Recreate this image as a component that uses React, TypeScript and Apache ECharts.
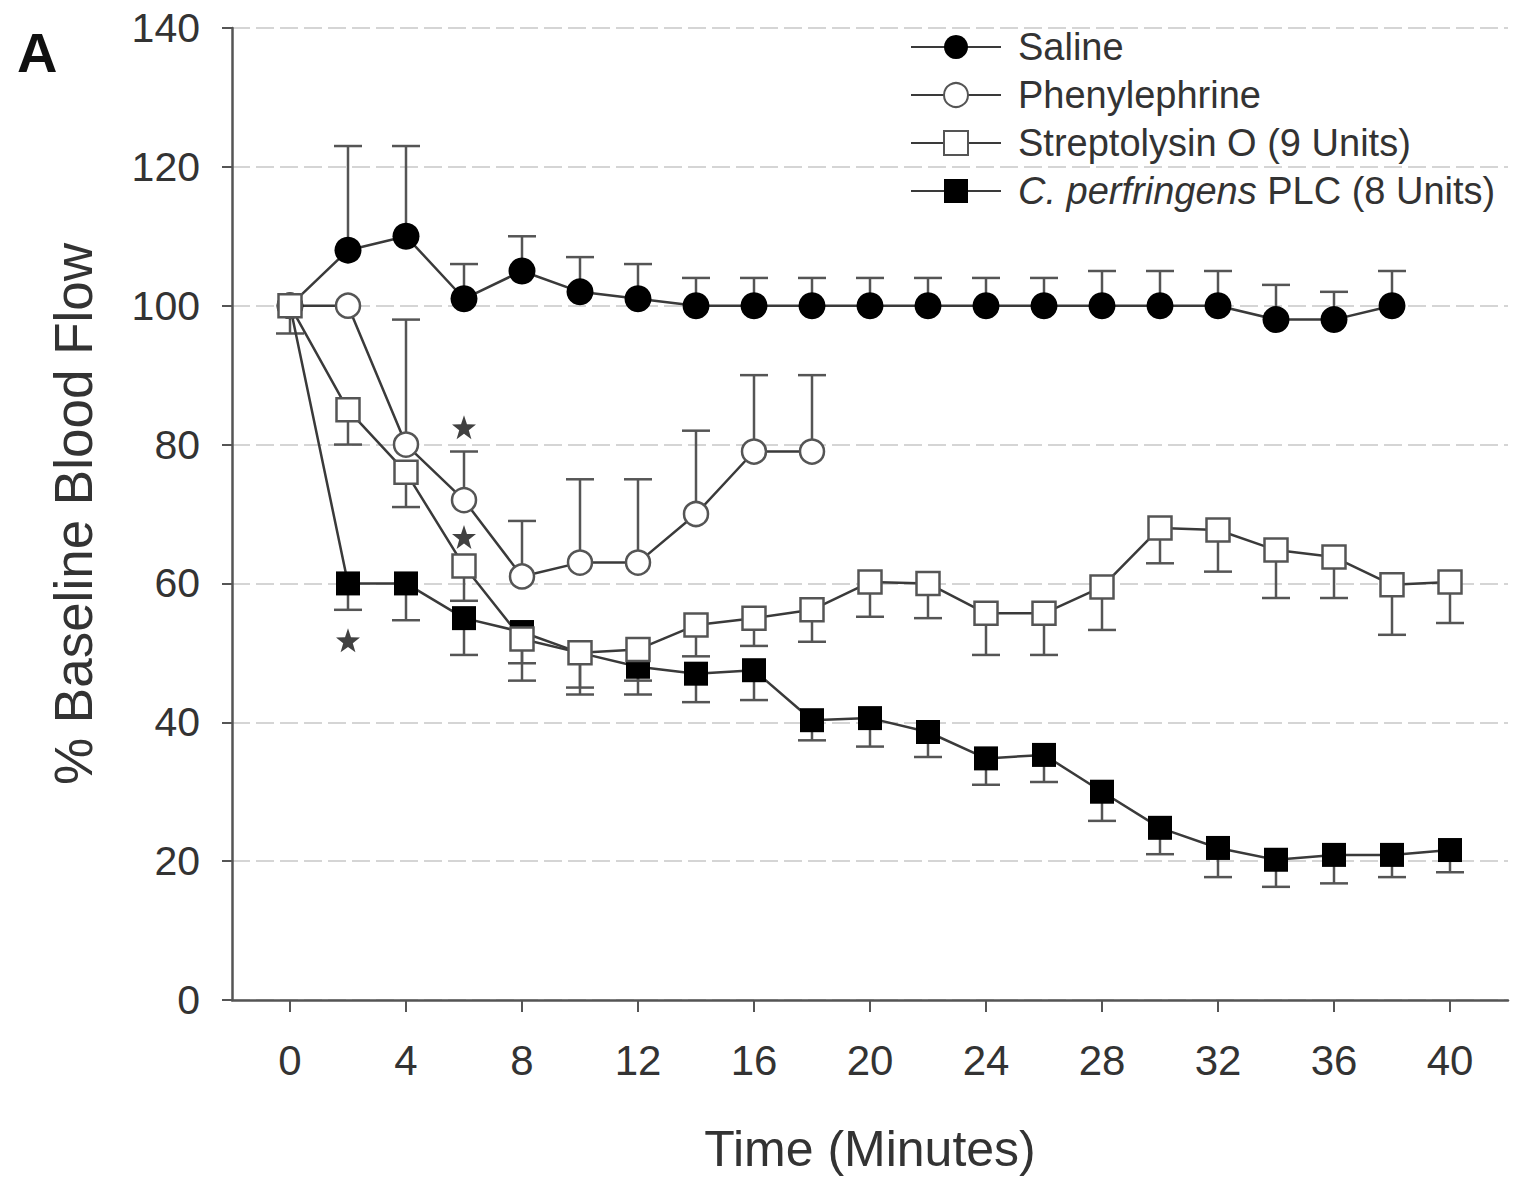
import React, { useEffect, useRef } from "react";
import * as echarts from "echarts";

// ---------- data ----------
const salineTime = [0, 2, 4, 6, 8, 10, 12, 14, 16, 18, 20, 22, 24, 26, 28, 30, 32, 34, 36, 38];
const salineValues = [100, 108, 110, 101, 105, 102, 101, 100, 100, 100, 100, 100, 100, 100, 100, 100, 100, 98, 98, 100];
const salineErrHigh = [null, 123, 123, 106, 110, 107, 106, 104, 104, 104, 104, 104, 104, 104, 105, 105, 105, 103, 102, 105];

const phenylTime = [0, 2, 4, 6, 8, 10, 12, 14, 16, 18];
const phenylValues = [100, 100, 80, 72, 61, 63, 63, 70, 79, 79];
const phenylErrHigh = [null, null, 98, 79, 69, 75, 75, 82, 90, 90];

const sloTime = [0, 2, 4, 6, 8, 10, 12, 14, 16, 18, 20, 22, 24, 26, 28, 30, 32, 34, 36, 38, 40];
const sloValues = [100, 85, 76, 62.5, 52, 50, 50.5, 54, 55, 56.2, 60.2, 60, 55.7, 55.7, 59.5, 68, 67.7, 64.8, 63.8, 59.8, 60.2];
const sloErrLow = [null, 80, 71, 57.5, 46, 44, 46, 49.5, 51, 51.6, 55.2, 55, 49.7, 49.7, 53.3, 62.9, 61.7, 57.9, 57.9, 52.6, 54.3];

const plcTime = [0, 2, 4, 6, 8, 10, 12, 14, 16, 18, 20, 22, 24, 26, 28, 30, 32, 34, 36, 38, 40];
const plcValues = [100, 60, 60, 55, 53, 50, 48, 47, 47.5, 40.3, 40.6, 38.6, 34.8, 35.3, 30, 24.8, 21.9, 20.2, 20.9, 20.9, 21.6];
const plcErrLow = [96, 56.2, 54.7, 49.7, 48.5, 45, 44, 42.9, 43.2, 37.4, 36.5, 35, 31, 31.4, 25.8, 21, 17.7, 16.3, 16.8, 17.7, 18.4];

const starTime = [2, 6, 6];
const starValues = [51.8, 82.5, 66.7];

const xTicks = [0, 4, 8, 12, 16, 20, 24, 28, 32, 36, 40];

const seriesNames = ["Saline", "Phenylephrine", "Streptolysin O (9 Units)", "C. perfringens PLC (8 Units)"];

// ---------- helpers ----------
const LINE = "#3a3a3a";
const EDGE = "#555";
const TEXT = "#333";
const FONT = "'Liberation Sans', Arial, sans-serif";

function pairs(xs: number[], ys: number[]) {
  return xs.map((x, i) => [x, ys[i]]);
}
function errPairs(xs: number[], ys: number[], es: (number | null)[]) {
  const out: number[][] = [];
  xs.forEach((x, i) => {
    const e = es[i];
    if (e !== null && e !== undefined) out.push([x, ys[i], e]);
  });
  return out;
}

function errorSeries(data: number[][]) {
  return {
    type: "custom",
    z: 1,
    silent: true,
    data,
    renderItem: (params: any, api: any) => {
      const x = api.value(0);
      const y = api.value(1);
      const e = api.value(2);
      const p0 = api.coord([x, y]);
      const p1 = api.coord([x, e]);
      const cap = 14;
      const style = { stroke: EDGE, lineWidth: 2.5 };
      return {
        type: "group",
        children: [
          { type: "line", shape: { x1: p0[0], y1: p0[1], x2: p1[0], y2: p1[1] }, style },
          { type: "line", shape: { x1: p1[0] - cap, y1: p1[1], x2: p1[0] + cap, y2: p1[1] }, style },
        ],
      };
    },
  };
}

const STAR =
  "path://M0,-10 L2.35,-3.24 L9.51,-3.09 L3.8,1.24 L5.88,8.09 L0,4 L-5.88,8.09 L-3.8,1.24 L-9.51,-3.09 L-2.35,-3.24 Z";

export default function App() {
  const ref = useRef<HTMLDivElement>(null);

  useEffect(() => {
    if (!ref.current) return;
    const chart = echarts.init(ref.current, null, { renderer: "svg" });

    const option: any = {
      animation: false,
      backgroundColor: "#fff",
      grid: { left: 232, right: 10, top: 28, bottom: 184, containLabel: false },
      xAxis: {
        type: "value",
        min: -2,
        max: 42,
        name: "Time (Minutes)",
        nameLocation: "middle",
        nameGap: 124,
        nameTextStyle: { fontSize: 50, color: TEXT, fontFamily: FONT },
        axisLine: { show: true, onZero: false, lineStyle: { color: EDGE, width: 2.5 } },
        axisTick: { show: true, length: 12, customValues: xTicks, lineStyle: { color: EDGE, width: 2 } },
        axisLabel: { customValues: xTicks, fontSize: 42, color: TEXT, fontFamily: FONT, margin: 39 },
        splitLine: { show: false },
      },
      yAxis: {
        type: "value",
        min: 0,
        max: 140,
        interval: 20,
        name: "% Baseline Blood Flow",
        nameLocation: "middle",
        nameGap: 132,
        nameRotate: 90,
        nameTextStyle: { fontSize: 53, color: TEXT, fontFamily: FONT },
        axisLine: { show: true, onZero: false, lineStyle: { color: EDGE, width: 2.5 } },
        axisTick: { show: true, length: 10, lineStyle: { color: EDGE, width: 2 } },
        axisLabel: { fontSize: 41, color: TEXT, fontFamily: FONT, margin: 32 },
        splitLine: { show: true, lineStyle: { color: "#c8c8c8", width: 1.5, type: [18, 6] } },
      },
      legend: {
        data: seriesNames,
        orient: "vertical",
        left: 910,
        top: 26,
        padding: 0,
        itemWidth: 90,
        itemHeight: 30,
        itemGap: 6,
        textStyle: {
          fontSize: 38,
          color: TEXT,
          fontFamily: FONT,
          lineHeight: 42,
          padding: [0, 0, 0, 12],
          rich: {
            i: { fontSize: 38, color: TEXT, fontFamily: FONT, fontStyle: "italic", lineHeight: 42 },
            n: { fontSize: 38, color: TEXT, fontFamily: FONT, lineHeight: 42 },
          },
        },
        formatter: (name: string) =>
          name.startsWith("C. perfringens") ? "{i|C. perfringens}{n| PLC (8 Units)}" : name,
      },
      graphic: [
        {
          type: "text",
          left: 17,
          top: 24,
          style: { text: "A", fontSize: 56, fontWeight: "bold", fill: "#111", fontFamily: FONT },
        },
      ],
      series: [
        errorSeries(errPairs(plcTime, plcValues, plcErrLow)),
        errorSeries(errPairs(salineTime, salineValues, salineErrHigh)),
        errorSeries(errPairs(phenylTime, phenylValues, phenylErrHigh)),
        errorSeries(errPairs(sloTime, sloValues, sloErrLow)),
        {
          name: seriesNames[3],
          type: "line",
          z: 3,
          data: pairs(plcTime, plcValues),
          symbol: "rect",
          symbolSize: 24,
          showAllSymbol: true,
          lineStyle: { color: LINE, width: 2.5 },
          itemStyle: { color: "#000", borderColor: "#000", borderWidth: 0 },
        },
        {
          name: seriesNames[0],
          type: "line",
          z: 3,
          data: pairs(salineTime, salineValues),
          symbol: "circle",
          symbolSize: 27,
          showAllSymbol: true,
          lineStyle: { color: LINE, width: 2.5 },
          itemStyle: { color: "#000", borderColor: "#000", borderWidth: 0 },
        },
        {
          name: seriesNames[1],
          type: "line",
          z: 3,
          data: pairs(phenylTime, phenylValues),
          symbol: "circle",
          symbolSize: 24,
          showAllSymbol: true,
          lineStyle: { color: LINE, width: 2.5 },
          itemStyle: { color: "#fff", borderColor: EDGE, borderWidth: 2.5 },
        },
        {
          name: seriesNames[2],
          type: "line",
          z: 3,
          data: pairs(sloTime, sloValues),
          symbol: "rect",
          symbolSize: 23,
          showAllSymbol: true,
          lineStyle: { color: LINE, width: 2.5 },
          itemStyle: { color: "#fff", borderColor: EDGE, borderWidth: 2.5 },
        },
        {
          type: "scatter",
          z: 4,
          silent: true,
          data: pairs(starTime, starValues),
          symbol: STAR,
          symbolSize: 24,
          itemStyle: { color: "#111" },
        },
      ],
    };

    chart.setOption(option);
    return () => chart.dispose();
  }, []);

  return (
    <div
      ref={ref}
      style={{ position: "absolute", left: 0, top: 0, width: 1518, height: 1184, background: "#fff" }}
    />
  );
}
